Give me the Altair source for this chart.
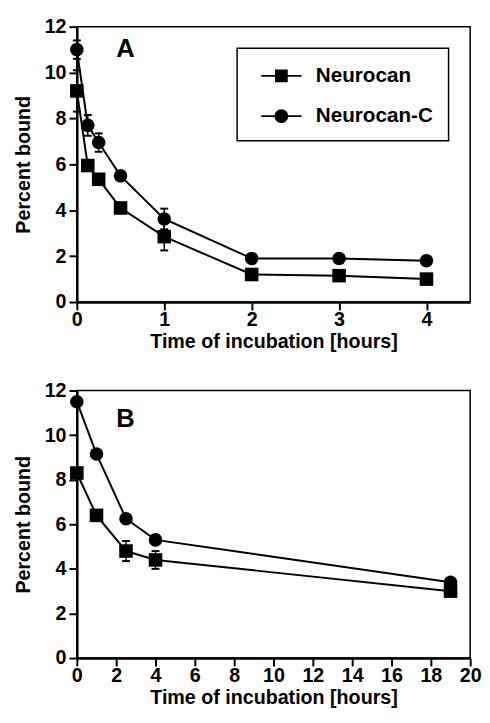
import altair as alt
import pandas as pd

FONT = "Liberation Sans"

series_names = ["Neurocan", "Neurocan-C"]

# Panel A (0-4 h)
a_time = [0, 0.125, 0.25, 0.5, 1, 2, 3, 4]
a_neurocan = [9.2, 5.95, 5.35, 4.1, 2.85, 1.2, 1.15, 1.0]
a_neurocan_err = [0.9, 0.15, 0.15, 0.15, 0.6, 0.1, 0.1, 0.1]
a_neurocan_c = [11.0, 7.7, 6.95, 5.5, 3.62, 1.9, 1.9, 1.8]
a_neurocan_c_err = [0.4, 0.45, 0.4, 0.1, 0.45, 0.1, 0.1, 0.1]

# Panel B (0-19 h)
b_time = [0, 1, 2.5, 4, 19]
b_neurocan = [8.3, 6.4, 4.8, 4.4, 3.0]
b_neurocan_err = [0.15, 0.2, 0.45, 0.4, 0.15]
b_neurocan_c = [11.5, 9.15, 6.25, 5.3, 3.4]
b_neurocan_c_err = [0.2, 0.15, 0.1, 0.15, 0.1]

a_ticks = [0, 1, 2, 3, 4]
b_ticks = [0, 2, 4, 6, 8, 10, 12, 14, 16, 18, 20]
y_ticks = [0, 2, 4, 6, 8, 10, 12]

# legend symbols: a short line with the marker on it (all filled)
SQ_PATH = "M-1.71,-0.08H1.71V0.08H-1.71Z M-0.54,-0.54H0.54V0.54H-0.54Z"
CI_PATH = ("M-1.71,-0.08H1.71V0.08H-1.71Z "
           "M0.58,0A0.58,0.58,0,1,1,-0.58,0A0.58,0.58,0,1,1,0.58,0Z")


def frame(time, s1, e1, s2, e2):
    rows = []
    for name, vals, errs in ((series_names[0], s1, e1), (series_names[1], s2, e2)):
        for t, v, e in zip(time, vals, errs):
            rows.append({"time": t, "value": v, "lo": v - e, "hi": v + e, "series": name})
    return pd.DataFrame(rows)


def panel(df, xdomain, xticks, letter, width, height, legend, letter_dy):
    base = alt.Chart(df)
    xax = alt.Axis(values=xticks, title="Time of incubation [hours]", format="d")
    yax = alt.Axis(values=y_ticks, title="Percent bound", format="d")
    xs = alt.Scale(domain=xdomain, nice=False, zero=False)
    ys = alt.Scale(domain=[0, 12], nice=False)
    x = alt.X("time:Q", scale=xs, axis=xax)

    err = base.mark_rule(color="black", strokeWidth=1.5).encode(
        x=x, y=alt.Y("lo:Q", scale=ys, axis=yax), y2="hi:Q")
    caps = base.transform_fold(["lo", "hi"], as_=["which", "capv"]).mark_tick(
        color="black", orient="horizontal", size=8, thickness=2, opacity=1).encode(
        x=x, y=alt.Y("capv:Q", scale=ys, axis=yax))
    line = base.mark_line(color="black", strokeWidth=2).encode(
        x=x, y=alt.Y("value:Q", scale=ys, axis=yax), detail="series:N")
    pts = base.mark_point(filled=True, color="black", size=190, opacity=1).encode(
        x=x, y=alt.Y("value:Q", scale=ys, axis=yax),
        shape=alt.Shape("series:N", scale=alt.Scale(domain=series_names, range=["square", "circle"]),
                        legend=None))
    layers = [err, caps, line, pts]
    if legend:
        leg = base.transform_filter("false").mark_point(
            filled=True, color="black", opacity=1).encode(
            x=x, y=alt.Y("value:Q", scale=ys, axis=yax),
            shape=alt.Shape("series:N",
                            scale=alt.Scale(domain=series_names, range=[SQ_PATH, CI_PATH]),
                            legend=alt.Legend(title=None, orient="none", legendX=163, legendY=22,
                                              padding=15, rowPadding=18, symbolSize=576,
                                              symbolOffset=17, labelOffset=22,
                                              labelFont=FONT, labelFontSize=21,
                                              labelFontWeight="bold", labelColor="black",
                                              labelLimit=0, strokeColor="black",
                                              fillColor="white",
                                              symbolFillColor="black", symbolOpacity=1)))
        layers.append(leg)
    ch = alt.layer(*layers).properties(
        width=width, height=height,
        title=alt.TitleParams(letter, anchor="start", frame="group", dx=40, dy=letter_dy,
                              offset=0, fontSize=26, font=FONT, fontWeight="bold",
                              color="black"))
    if legend:
        ch = ch.resolve_scale(shape="independent")
    return ch


df_a = frame(a_time, a_neurocan, a_neurocan_err, a_neurocan_c, a_neurocan_c_err)
df_b = frame(b_time, b_neurocan, b_neurocan_err, b_neurocan_c, b_neurocan_c_err)

pa = panel(df_a, [0, 4.5], a_ticks, "A", 400, 280, True, 46)
pb = panel(df_b, [0, 20], b_ticks, "B", 400, 272, False, 52)

chart = alt.vconcat(pa, pb, spacing=28).resolve_scale(
    x="independent", y="independent", shape="independent"
).properties(padding={"left": 5, "top": 2, "right": 0, "bottom": 5}).configure_view(
    stroke="black", strokeWidth=1.5
).configure_axis(
    domainColor="black", domainWidth=2.5, tickColor="black", tickWidth=2, tickSize=8,
    labelFont=FONT, labelFontSize=20, labelFontWeight="bold", labelColor="black",
    labelFlush=False, labelOverlap=False,
    titleFont=FONT, titleFontSize=20, titleFontWeight="bold", titleColor="black", grid=False
).configure_axisY(titlePadding=11, labelPadding=3).configure_axisX(
    titlePadding=2, labelPadding=0
).configure_legend(strokeWidth=1.5)

chart.save("out.html", embed_options={"renderer": "svg", "actions": False})
